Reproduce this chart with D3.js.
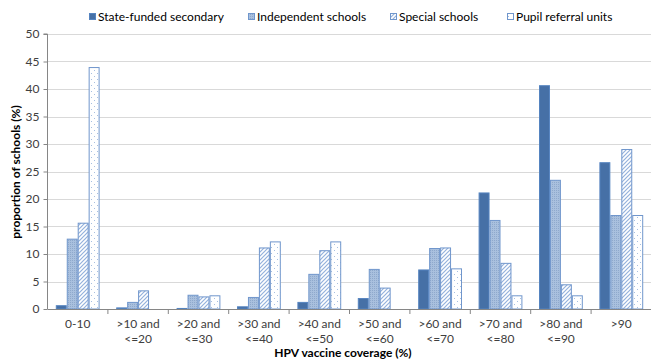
<!DOCTYPE html>
<html><head><meta charset="utf-8">
<script src="https://cdn.jsdelivr.net/npm/d3@7"></script>
<style>body{margin:0;background:#fff}svg{display:block;font-family:Lato,"Open Sans",sans-serif}</style>
</head><body><svg id="c" width="651" height="362"></svg>
<script>
const categories = ["0-10", ">10 and\n<=20", ">20 and\n<=30", ">30 and\n<=40", ">40 and\n<=50", ">50 and\n<=60", ">60 and\n<=70", ">70 and\n<=80", ">80 and\n<=90", ">90"];
const seriesNames = ["State-funded secondary", "Independent schools", "Special schools", "Pupil referral units"];
const stateFunded = [0.6, 0.2, 0.1, 0.4, 1.2, 1.9, 7.1, 21.1, 40.6, 26.6];
const independent = [12.7, 1.2, 2.5, 2.1, 6.3, 7.2, 11.0, 16.1, 23.4, 17.0];
const special = [15.6, 3.3, 2.2, 11.1, 10.6, 3.8, 11.1, 8.3, 4.4, 29.0];
const pupilReferral = [43.9, 0, 2.4, 12.2, 12.2, 0, 7.3, 2.4, 2.4, 17.0];
const yTicks = [0, 5, 10, 15, 20, 25, 30, 35, 40, 45, 50];

const series = [stateFunded, independent, special, pupilReferral];
const svg = d3.select("#c");
const defs = svg.append("defs");
// patterns
const pInd = defs.append("pattern").attr("id","pInd").attr("patternUnits","userSpaceOnUse").attr("width",2).attr("height",2);
pInd.append("rect").attr("width",2).attr("height",2).attr("fill","#a9c0de");
pInd.append("rect").attr("width",1).attr("height",1).attr("fill","#8fa9cc");
const pSp = defs.append("pattern").attr("id","pSp").attr("patternUnits","userSpaceOnUse").attr("width",4).attr("height",4);
pSp.append("rect").attr("width",4).attr("height",4).attr("fill","#fff");
pSp.append("path").attr("d","M-1,1 l2,-2 M0,4 l4,-4 M3,5 l2,-2").attr("stroke","#94b1dc").attr("stroke-width",1.2);
const pPu = defs.append("pattern").attr("id","pPu").attr("patternUnits","userSpaceOnUse").attr("width",6).attr("height",6);
pPu.append("rect").attr("width",6).attr("height",6).attr("fill","#fff");
pPu.append("rect").attr("x",1).attr("y",1).attr("width",1).attr("height",1).attr("fill","#a7bfe0");
pPu.append("rect").attr("x",4).attr("y",4).attr("width",1).attr("height",1).attr("fill","#a7bfe0");

const fills = ["#4670a6", "url(#pInd)", "url(#pSp)", "url(#pPu)"];
const strokes = ["#5584c0", "#7096cc", "#7096cc", "#7096cc"];

const mLeft = 47.5, mRight = 651, mTop = 34, mBottom = 309;
const x = d3.scaleBand().domain(categories).range([mLeft, mLeft + 60.4*10]).paddingInner(0).paddingOuter(0);
const xs = d3.scaleBand().domain(d3.range(4)).range([8.3, 60.4-8.3]);
const y = d3.scaleLinear().domain([0, 50]).range([mBottom, mTop]);

// gridlines
svg.append("g").selectAll("line").data(yTicks.slice(1)).join("line")
  .attr("x1", mLeft).attr("x2", mRight).attr("y1", d=>Math.round(y(d))+0.5).attr("y2", d=>Math.round(y(d))+0.5)
  .attr("stroke","#d9d9d9").attr("stroke-width",1);

// bars
const g = svg.append("g");
series.forEach((vals, si) => {
  g.append("g").selectAll("rect").data(vals.map((v,i)=>({v, c:categories[i]})).filter(d => d.v > 0)).join("rect")
    .attr("x", d => x(d.c) + xs(si) + 0.5)
    .attr("width", xs.bandwidth() - 1)
    .attr("y", d => y(d.v))
    .attr("height", d => y(0) - y(d.v))
    .attr("fill", fills[si]).attr("stroke", strokes[si]).attr("stroke-width", 1);
});

// y axis
const ya = svg.append("g").attr("transform",`translate(${mLeft},0)`)
  .call(d3.axisLeft(y).tickValues(yTicks).tickSize(4).tickPadding(4));
ya.select(".domain").attr("stroke","#868686").attr("d",`M-4,${y(50)}H0V${y(0)}`);
ya.selectAll(".tick line").attr("stroke","#868686");
ya.selectAll("text").attr("font-size",12).attr("fill","#404040").attr("font-family","Lato, sans-serif");

// x axis
const xa = svg.append("g").attr("transform",`translate(0,${mBottom})`)
  .call(d3.axisBottom(x).tickSize(0).tickFormat(""));
xa.select(".domain").attr("stroke","#868686").attr("d",`M${mLeft},0.5H${mRight}`);
const bounds = categories.map(c => x(c)).concat([x(categories[9]) + x.bandwidth()]);
xa.selectAll(".bt").data(bounds.slice(1)).join("line").attr("class","bt")
  .attr("x1", d=>d).attr("x2", d=>d).attr("y1",0).attr("y2",5).attr("stroke","#868686");
const labels = svg.append("g");
categories.forEach(c => {
  const t = labels.append("text").attr("text-anchor","middle").attr("font-size",12).attr("fill","#404040")
    .attr("x", x(c) + x.bandwidth()/2).attr("y", 328);
  c.split("\n").forEach((ln, i) => t.append("tspan").attr("x", x(c) + x.bandwidth()/2).attr("dy", i ? 15 : 0).text(ln));
});

// titles
svg.append("text").attr("x", 343).attr("y", 357).attr("text-anchor","middle").attr("font-size",12)
  .attr("font-weight","bold").attr("fill","#000").text("HPV vaccine coverage (%)");
svg.append("text").attr("transform","translate(20,172) rotate(-90)").attr("text-anchor","middle").attr("font-size",12)
  .attr("font-weight","bold").attr("fill","#000").text("proportion of schools (%)");

// legend
const legX = [89, 248, 390, 507];
const lg = svg.append("g");
seriesNames.forEach((n, i) => {
  lg.append("rect").attr("x", legX[i]+0.5).attr("y", 13.5).attr("width", 6).attr("height", 6)
    .attr("fill", fills[i]).attr("stroke", strokes[i]);
  lg.append("text").attr("x", legX[i] + 9).attr("y", 21).attr("font-size", 12).attr("fill","#000").text(n);
});
</script></body></html>
